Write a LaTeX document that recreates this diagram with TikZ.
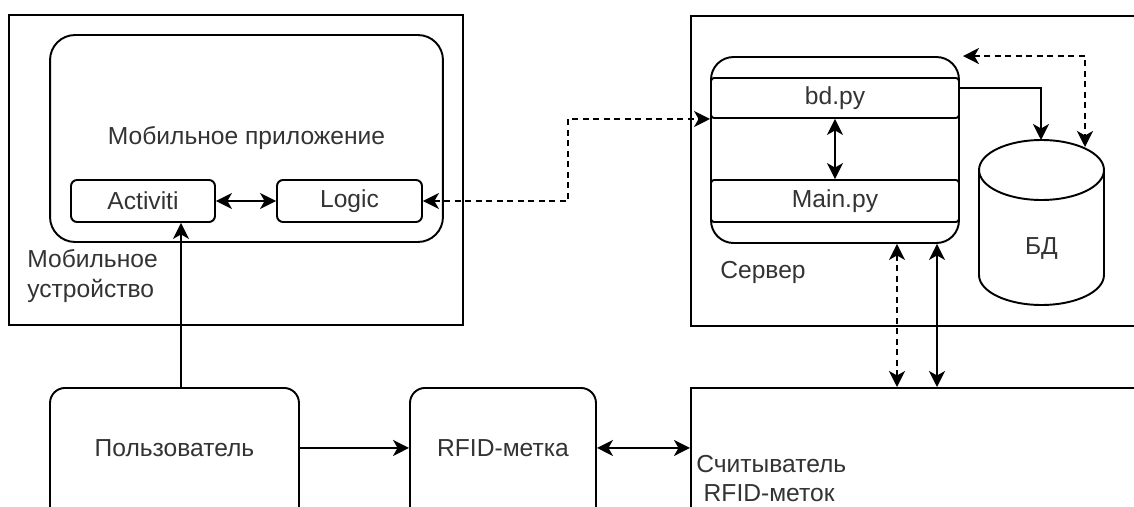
\documentclass[tikz,border=0pt]{standalone}
\usepackage{fontspec}
\setmainfont{Liberation Sans}
\usetikzlibrary{arrows.meta,positioning,calc}

\tikzset{
  lbl/.style={font=\fontsize{14}{16.6}\selectfont, text=black!80},
  frame/.style={draw, line width=1.1pt, inner sep=0pt},
  rbox/.style={frame, rounded corners=0.45cm},
  sbox/.style={frame, rounded corners=0.12cm},
  row/.style={frame, rounded corners=0.06cm},
  arr/.style={line width=1.1pt, -{Stealth[length=3.2mm,width=3.2mm,inset=0.9mm]}},
  dual/.style={line width=1.1pt, {Stealth[length=3.2mm,width=3.2mm,inset=0.9mm]}-{Stealth[length=3.2mm,width=3.2mm,inset=0.9mm]}},
  dline/.style={dash pattern=on 1.2mm off 0.9mm}
}

\begin{document}
\begin{tikzpicture}[x=0.02cm,y=-0.02cm]
  \useasboundingbox (0,0) rectangle (1134,507);
  \clip (0,0) rectangle (1134,507);

  % mobile device
  \node[frame, minimum width=9.08cm, minimum height=6.2cm] (dev) at (236,170) {};
  \node[rbox, lbl, rounded corners=0.5cm, minimum width=7.86cm, minimum height=4.14cm] (app) at (246.5,138.5) {Мобильное приложение};
  \node[sbox, lbl, minimum width=2.88cm, minimum height=0.84cm] (act) at (143,201) {Activiti};
  \node[sbox, lbl, minimum width=2.9cm, minimum height=0.84cm] (logic) at (349.5,201) {Logic};
  \node[lbl, inner sep=0pt, anchor=west, align=left] (devlbl) at (27,276) {Мобильное\\устройство};

  % server
  \node[frame, minimum width=9.4cm, minimum height=6.2cm, anchor=north west] (srv) at (690,15) {};
  \node[rbox, minimum width=4.96cm, minimum height=3.72cm] (core) at (835,150) {};
  \node[row, lbl, minimum width=4.96cm, minimum height=0.8cm] (bd) at (835,98) {bd.py};
  \node[row, lbl, minimum width=4.96cm, minimum height=0.84cm] (mainpy) at (835,201) {Main.py};
  \node[lbl] (srvlbl) at (763,272) {Сервер};

  % database
  \draw[line width=1.1pt] (979,170) -- (979,275)
    arc[start angle=180, end angle=360, x radius=1.25cm, y radius=0.6cm] -- (1104,170)
    arc[start angle=0, end angle=180, x radius=1.25cm, y radius=0.6cm]
    arc[start angle=180, end angle=360, x radius=1.25cm, y radius=0.6cm];
  \node[lbl] (db) at (1041.5,248) {БД};
  \coordinate (dbtop) at (1041,140);
  \coordinate (dbside) at (1085,147);

  % bottom row
  \node[frame, rounded corners=0.3cm, minimum width=4.98cm, minimum height=2.8cm, anchor=north,
        label={[lbl, yshift=0.2cm]center:Пользователь}] (user) at (174.5,387) {};
  \node[frame, rounded corners=0.3cm, minimum width=3.72cm, minimum height=2.8cm, anchor=north,
        label={[lbl, yshift=0.2cm]center:RFID-метка}] (rfid) at (503,387) {};
  \node[frame, minimum width=9.4cm, minimum height=3cm, anchor=north west] (reader) at (690,387) {};
  \node[lbl, inner sep=0pt, anchor=north west, align=left] (readerlbl) at (696,455) {Считыватель\\\hspace*{0.3em}RFID-меток};

  % links
  \draw[dual] (act) -- (logic);
  \draw[dual, dline] (logic.east) -- ++(145,0) |- (bd.south west);
  \draw[dual] (bd) -- (mainpy);
  \draw[arr] ($(bd.east)+(0,-10)$) -| (dbtop);
  \draw[dual, dline] ($(core.north east)+(3,0)$) -| (dbside);
  \draw[dual, dline] ($(core.south)+(62,0)$) coordinate (c1) -- (c1 |- reader.north);
  \draw[dual] ($(core.south)+(102,0)$) coordinate (c2) -- (c2 |- reader.north);
  \draw[arr] ($(user.north)+(6.5,0)$) coordinate (u1) -- (u1 |- act.south);
  \draw[arr] ($(user.east)+(0,-10)$) coordinate (u2) -- (u2 -| rfid.west);
  \draw[dual] ($(rfid.east)+(0,-10)$) coordinate (r1) -- (r1 -| reader.west);
\end{tikzpicture}
\end{document}
